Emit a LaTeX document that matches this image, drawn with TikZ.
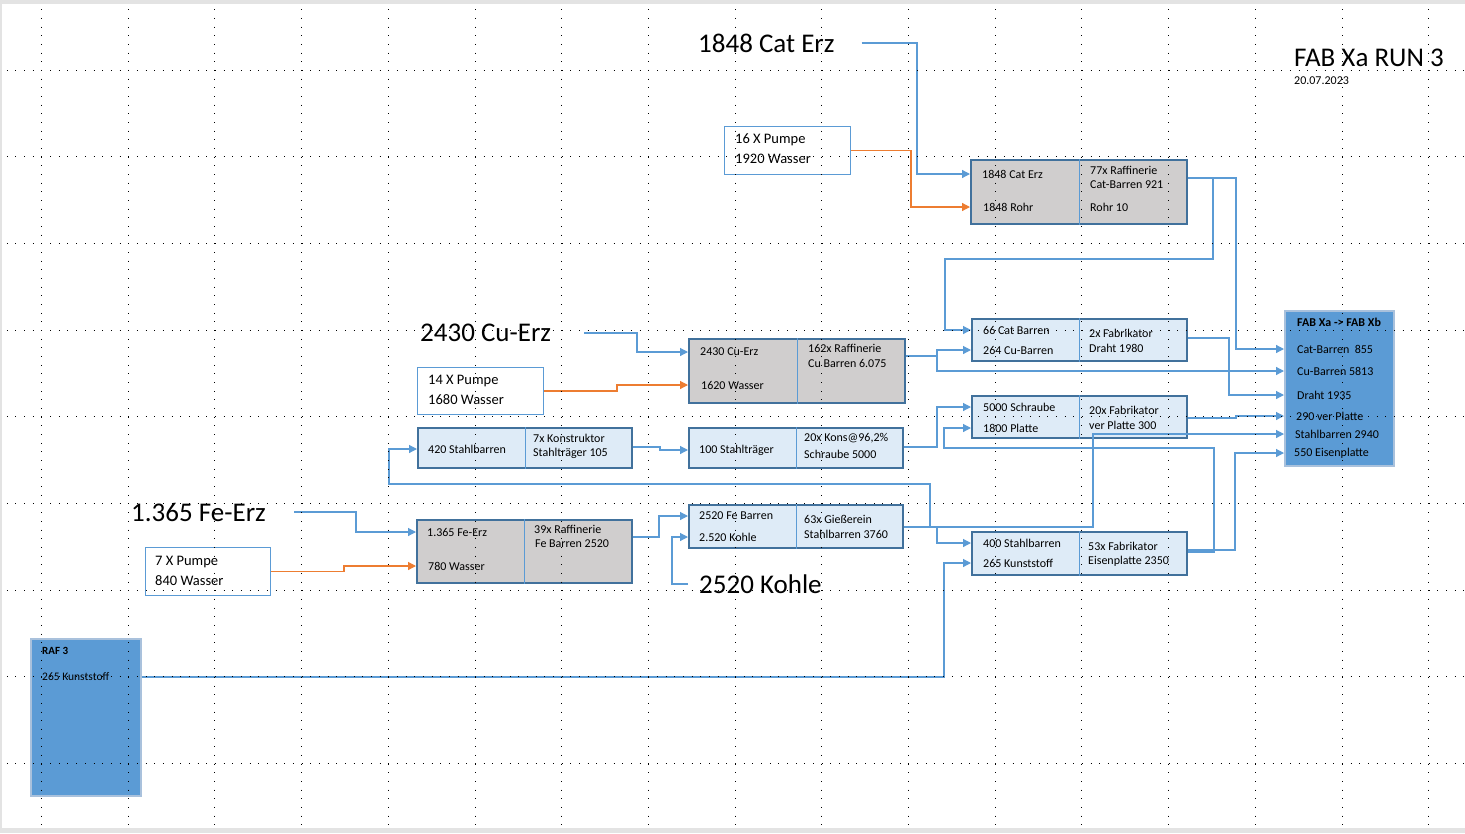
\documentclass[tikz,border=0pt]{standalone}
\usepackage{fontspec}
\setmainfont{Carlito}
\usetikzlibrary{arrows.meta}

\definecolor{lnblue}{HTML}{5B9BD5}
\definecolor{lnorange}{HTML}{ED7D31}
\definecolor{boxedge}{HTML}{41719C}
\definecolor{rawgray}{HTML}{D0CECE}
\definecolor{partblue}{HTML}{DEEBF7}
\definecolor{fabedge}{HTML}{A9C1DC}

\newcommand{\fsBig}{\fontsize{27}{32}\selectfont}
\newcommand{\fsPump}{\fontsize{14.5}{17}\selectfont}
\newcommand{\fsBox}{\fontsize{12}{14}\selectfont}

\begin{document}
\begin{tikzpicture}[x=1pt, y=-1pt, >={Triangle[length=8pt,width=8pt]},
    gridline/.style={line width=1pt, dash pattern=on 1pt off 7.67pt},
    rawbox/.style={draw=boxedge, line width=2.4pt, fill=rawgray, anchor=north west, inner sep=0},
    partbox/.style={rawbox, fill=partblue},
    pumpbox/.style={draw=lnblue, line width=1pt, fill=white, anchor=north west, inner sep=0},
    fabbox/.style={draw=fabedge, line width=1.5pt, fill=lnblue, anchor=north west, inner sep=0},
    divider/.style={draw=lnblue, line width=1pt},
    txt/.style={anchor=west, inner sep=0, font=\fsBox},
    pumptxt/.style={txt, font=\fsPump},
    bigtxt/.style={txt, font=\fsBig},
    flow/.style={draw=lnblue, line width=1.2pt, ->},
    water/.style={draw=lnorange, line width=1.2pt, ->}]

    % 背景
    \useasboundingbox (0,0) rectangle (1465,833);
    \fill[gray!22] (0,0) rectangle (1465,833);
    \fill[white] (1.5,4) rectangle (1465,828);

    % 見出し
    \node[bigtxt] (title) at (1294,58) {FAB Xa RUN 3};
    \node[txt] (date) at (1294,81) {20.07.2023};

    % 原料・ポンプ
    \node[bigtxt] (catore) at (698,43) {1848 Cat Erz};
    \node[bigtxt] (cuore) at (420,333) {2430 Cu-Erz};
    \node[bigtxt] (feore) at (131,512) {1.365 Fe-Erz};
    \node[bigtxt] (kohle) at (699,584) {2520 Kohle};

    \node[pumpbox, minimum width=126pt, minimum height=48pt] (pump16) at (724,126) {};
    \node[pumptxt] (pump16a) at (735,140) {16 X Pumpe};
    \node[pumptxt] (pump16b) at (735,159) {1920 Wasser};
    \node[pumpbox, minimum width=126pt, minimum height=47pt] (pump14) at (417,367) {};
    \node[pumptxt] (pump14a) at (428,381) {14 X Pumpe};
    \node[pumptxt] (pump14b) at (428,400) {1680 Wasser};
    \node[pumpbox, minimum width=125pt, minimum height=48pt] (pump7) at (145,547) {};
    \node[pumptxt] (pump7a) at (155,562) {7 X Pumpe};
    \node[pumptxt] (pump7b) at (155,581) {840 Wasser};

    % Raffinerie (grau)
    \node[rawbox, minimum width=216pt, minimum height=64pt] (catbox) at (970,159) {};
    \draw[divider] (catbox.north) -- (catbox.south);
    \node[txt] (catL1) at (982,174) {1848 Cat Erz};
    \node[txt] (catL2) at (983,207) {1848 Rohr};
    \node[txt] (catR1) at (1090,170) {77x Raffinerie};
    \node[txt] (catR2) at (1090,185) {Cat-Barren 921};
    \node[txt] (catR3) at (1090,207) {Rohr 10};

    \node[rawbox, minimum width=216pt, minimum height=64pt] (cubox) at (688,338) {};
    \draw[divider] (cubox.north) -- (cubox.south);
    \node[txt] (cuL1) at (700,352) {2430 Cu-Erz};
    \node[txt] (cuL2) at (701,385) {1620 Wasser};
    \node[txt] (cuR1) at (808,348) {162x Raffinerie};
    \node[txt] (cuR2) at (808,363) {Cu Barren 6.075};

    \node[rawbox, minimum width=215pt, minimum height=63pt] (febox) at (416,519) {};
    \draw[divider] (febox.north) -- (febox.south);
    \node[txt] (feL1) at (427,532) {1.365 Fe-Erz};
    \node[txt] (feL2) at (428,566) {780 Wasser};
    \node[txt] (feR1) at (534,529) {39x Raffinerie};
    \node[txt] (feR2) at (535,544) {Fe Barren 2520};

    % Fabrikator / Konstruktor (hellblau)
    \node[partbox, minimum width=215pt, minimum height=42pt] (draht) at (971,318) {};
    \draw[divider] (draht.north) -- (draht.south);
    \node[txt] (drahtL1) at (983,330) {66 Cat Barren};
    \node[txt] (drahtL2) at (983,350) {264 Cu-Barren};
    \node[txt] (drahtR1) at (1089,333) {2x Fabrikator};
    \node[txt] (drahtR2) at (1089,348) {Draht 1980};

    \node[partbox, minimum width=214pt, minimum height=40pt] (stahl) at (417,427) {};
    \draw[divider] (stahl.north) -- (stahl.south);
    \node[txt] (stahlL1) at (428,449) {420 Stahlbarren};
    \node[txt] (stahlR1) at (533,438) {7x Konstruktor};
    \node[txt] (stahlR2) at (533,453) {Stahlträger 105};

    \node[partbox, minimum width=214pt, minimum height=40pt] (schr) at (688,427) {};
    \draw[divider] (schr.north) -- (schr.south);
    \node[txt] (schrL1) at (699,450) {100 Stahlträger};
    \node[txt] (schrR1) at (804,438) {20x Kons@96,2\%};
    \node[txt] (schrR2) at (804,454) {Schraube 5000};

    \node[partbox, minimum width=215pt, minimum height=42pt] (platte) at (971,395) {};
    \draw[divider] (platte.north) -- (platte.south);
    \node[txt] (platteL1) at (983,407) {5000 Schraube};
    \node[txt] (platteL2) at (983,428) {1800 Platte};
    \node[txt] (platteR1) at (1089,410) {20x Fabrikator};
    \node[txt] (platteR2) at (1089,425) {ver Platte 300};

    \node[partbox, minimum width=214pt, minimum height=43pt] (giess) at (688,504) {};
    \draw[divider] (giess.north) -- (giess.south);
    \node[txt] (giessL1) at (699,516) {2520 Fe Barren};
    \node[txt] (giessL2) at (699,537) {2.520 Kohle};
    \node[txt] (giessR1) at (804,519) {63x Gießerein};
    \node[txt] (giessR2) at (804,534) {Stahlbarren 3760};

    \node[partbox, minimum width=215pt, minimum height=43pt] (eisen) at (971,531) {};
    \draw[divider] (eisen.north) -- (eisen.south);
    \node[txt] (eisenL1) at (983,543) {400 Stahlbarren};
    \node[txt] (eisenL2) at (983,563) {265 Kunststoff};
    \node[txt] (eisenR1) at (1088,546) {53x Fabrikator};
    \node[txt] (eisenR2) at (1088,561) {Eisenplatte 2350};

    % FAB Xa -> FAB Xb, RAF 3
    \node[fabbox, minimum width=109pt, minimum height=155pt] (fab) at (1284,310) {};
    \node[txt, font=\fsBox\bfseries] (fab0) at (1297,322) {FAB Xa -> FAB Xb};
    \node[txt] (fab1) at (1297,349) {Cat-Barren\ \ 855};
    \node[txt] (fab2) at (1297,371) {Cu-Barren 5813};
    \node[txt] (fab3) at (1297,395) {Draht 1935};
    \node[txt] (fab4) at (1296,416) {290 ver Platte};
    \node[txt] (fab5) at (1295,434) {Stahlbarren 2940};
    \node[txt] (fab6) at (1294,453) {550 Eisenplatte};

    \node[fabbox, minimum width=110pt, minimum height=157pt] (raf) at (30,638) {};
    \node[txt, font=\fontsize{11}{13}\selectfont\bfseries] (rafL1) at (42,651) {RAF 3};
    \node[txt, font=\fontsize{11.5}{13}\selectfont] (rafL2) at (42,677) {265 Kunststoff};

    % Verbindungen
    \draw[flow] ([xshift=27pt]catore.east) -| (917,0 |- catL1) -- (catbox.west |- catL1);
    \draw[water] (pump16.east) -| (911,0 |- catL2) -- (catbox.west |- catL2);
    \draw[flow] (catbox.east |- 0,178) -| (1236,0 |- fab1) -- (fab.west |- fab1);
    \draw[flow] (catbox.east |- 0,178) -| (1213,259) -| (945,0 |- drahtL1) -- (draht.west |- drahtL1);

    \draw[flow] ([xshift=33pt]cuore.east) -| (637,0 |- cuL1) -- (cubox.west |- cuL1);
    \draw[water] (pump14.east) -| (617,0 |- cuL2) -- (cubox.west |- cuL2);
    \draw[flow] (cubox.east |- 0,356) -| (937,0 |- drahtL2) -- (draht.west |- drahtL2);
    \draw[flow] (cubox.east |- 0,356) -| (937,0 |- fab2) -- (fab.west |- fab2);
    \draw[flow] (draht.east |- 0,338) -| (1229,0 |- fab3) -- (fab.west |- fab3);

    \draw[flow] (stahl.east |- 0,447) -| (660,0 |- schrL1) -- (schr.west |- schrL1);
    \draw[flow] (schr.east |- 0,447) -| (937,0 |- platteL1) -- (platte.west |- platteL1);
    \draw[flow] (platte.east |- 0,418) -| (1236,0 |- fab4) -- (fab.west |- fab4);

    \draw[flow] ([xshift=28pt]feore.east) -| (356,0 |- feL1) -- (febox.west |- feL1);
    \draw[water] (pump7.east) -| (344,0 |- feL2) -- (febox.west |- feL2);
    \draw[flow] (febox.east |- 0,537) -| (659,0 |- giessL1) -- (giess.west |- giessL1);
    \draw[flow] ([xshift=-11pt]kohle.west) -| (672,0 |- giessL2) -- (giess.west |- giessL2);

    \draw[flow] (giess.east |- 0,527) -| (930,484) -| (389,0 |- stahlL1) -- (stahl.west |- stahlL1);
    \draw[flow] (giess.east |- 0,527) -| (937,0 |- eisenL1) -- (eisen.west |- eisenL1);
    \draw[flow] (giess.east |- 0,527) -| (1093,0 |- fab5) -- (fab.west |- fab5);

    \draw[flow] (eisen.east |- 0,552) -| (1214,448) -| (944,0 |- platteL2) -- (platte.west |- platteL2);
    \draw[flow] (eisen.east |- 0,550) -| (1235,0 |- fab6) -- (fab.west |- fab6);
    \draw[flow] (raf.east |- rafL2) -| (944,0 |- eisenL2) -- (eisen.west |- eisenL2);

    % Raster
    \foreach \k in {0,...,8}
        \draw[gridline] (6.8,{70+86.7*\k}) -- (1465,{70+86.7*\k});
    \foreach \k in {0,...,16}
        \draw[gridline] ({41.5+86.7*\k},9.3) -- ({41.5+86.7*\k},826);

\end{tikzpicture}
\end{document}
